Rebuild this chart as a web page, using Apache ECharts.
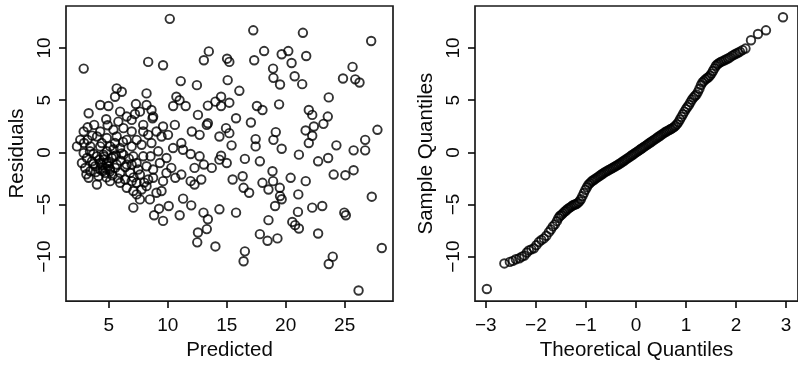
<!DOCTYPE html>
<html>
<head>
<meta charset="utf-8">
<script src="https://cdn.jsdelivr.net/npm/echarts@6/dist/echarts.min.js"></script>
<style>
html,body{margin:0;padding:0;background:#fff;}
#c{width:798px;height:366px;}
</style>
</head>
<body>
<div id="c"></div>
<script>
// Residuals vs predicted (left panel)
const predicted = [10.17,2.87,17.25,21.46,27.25,8.34,9.6,13.48,13.06,15.03,15.22,17.33,18.17,19.66,20.22,20.5,21.74,18.93,18.96,19.52,20.76,21.4,25.67,25.9,26.26,24.86,11.1,12.47,15.08,16.07,23.65,19.44,17.56,18.03,21.96,22.25,23.57,17.05,27.78,19.16,21.69,22.39,23.2,22.25,21.96,17.45,17.45,18.96,19.66,21.12,24.3,25.76,26.74,26.74,22.75,23.6,17.81,16.54,15.5,16.35,16.43,16.9,18.03,18.54,18.88,18.93,19.5,19.52,19.66,19.1,20.42,21.7,21.07,22.25,23.1,24.07,25.06,25.76,24.97,25.1,27.3,21.04,20.56,21.12,20.8,22.75,18.54,17.81,18.46,19.3,15.79,14.38,14.04,12.56,12.5,13.4,13.31,13.03,16.54,16.43,23.65,23.99,28.15,26.18,11.01,11.99,11.3,9.6,8.84,9.26,10.08,7.08,9.47,
10.73,11.0,11.52,10.46,13.4,14.04,14.52,14.52,15.22,12.56,13.31,13.4,15.79,12.04,12.7,14.94,15.22,14.38,15.41,11.15,11.29,10.45,11.94,12.7,14.52,15.0,13.06,13.73,12.27,11.15,12.84,12.27,11.94,10.64,10.3,14.38,9.6,10.02,10.6,9.47,9.89,9.33,8.54,8.71,8.62,8.2,8.2,7.3,7.22,8.76,
5.67,6.1,5.53,4.97,4.27,3.29,5.96,6.52,7.64,4.78,3.76,2.87,4.27,5.39,6.24,6.94,7.92,8.34,7.36,6.52,5.67,4.83,4.0,3.2,2.3,3.43,4.27,5.11,5.96,6.94,7.78,8.62,2.87,3.71,4.55,5.39,6.24,7.08,7.92,2.72,3.57,4.27,4.83,5.67,6.52,7.36,8.2,3.43,4.27,5.11,5.96,6.8,7.64,8.76,3.29,4.13,5.11,3.99,5.96,6.52,7.08,7.36,8.2,7.64,8.48,9.04,8.34,4.55,4.97,4.69,4.0,4.83,3.85,5.25,4.41,5.53,3.15,2.58,5.81,5.53,6.38,6.94,7.36,7.78,9.6,9.89,9.19,6.94,7.92,9.04,6.94,7.5,8.76,
4.7,4.4,5.0,4.6,3.9,5.3,6.0,6.7,3.4,3.0,3.6,4.9,6.2,7.1,8.0,5.8,3.2,2.9,
4.5,5.1,3.7,4.2,5.6,6.4,3.1,4.8,5.4,6.1];
const residuals = [12.8,8.03,11.7,11.46,10.67,8.67,8.35,9.68,8.83,8.98,8.67,8.83,9.71,9.4,9.71,8.57,9.24,8.03,7.14,6.5,7.3,6.54,8.19,7.0,6.7,7.08,6.83,6.44,6.92,5.9,5.27,4.6,4.44,4.06,4.06,3.59,3.43,2.86,2.16,1.94,2.1,2.48,2.73,1.59,0.89,1.27,0.57,1.2,0.35,-0.22,0.67,0.19,0.19,1.2,-0.86,-0.54,-0.86,-0.63,-2.6,-2.29,-3.4,-3.87,-2.92,-3.56,-1.81,-2.76,-3.4,-4.19,-4.5,-5.14,-2.44,-2.76,-4.03,-5.3,-5.14,-2.13,-2.19,-1.71,-5.78,-6.03,-4.25,-5.71,-6.67,-7.3,-6.98,-7.78,-6.5,-7.84,-8.48,-8.25,-5.78,-5.46,-9.02,-7.68,-8.63,-6.41,-7.36,-5.78,-9.49,-10.44,-10.7,-10.0,-9.17,-13.24,-6.03,-5.08,-4.44,-6.57,-6.03,-5.4,-5.14,-5.3,-3.71,
5.33,5.0,4.44,4.44,4.48,4.86,5.33,4.44,4.76,3.59,2.63,2.79,3.27,2.0,1.68,2.32,1.84,1.52,0.67,0.89,0.25,0.41,-0.16,-0.38,-0.32,-1.02,-1.17,-1.49,-1.49,-2.13,-2.6,-3.08,-2.76,-2.44,-1.49,-0.7,2.48,1.68,2.63,1.52,-0.54,-1.02,-0.38,3.27,4.06,4.54,5.65,4.63,3.68,3.43,
6.13,5.81,5.33,4.44,4.54,3.75,3.9,3.43,3.9,3.17,2.63,2.0,2.0,2.16,2.32,2.0,2.0,1.68,1.2,1.2,1.52,1.37,1.52,1.2,0.57,0.57,0.57,0.57,0.41,0.57,0.73,0.89,-0.06,-0.13,-0.22,-0.38,-0.22,-0.38,-0.38,-1.02,-0.86,-1.02,-1.02,-1.17,-1.17,-1.02,-1.33,-1.81,-1.65,-1.81,-1.97,-1.97,-2.13,-2.44,-2.44,-2.29,-2.76,-3.08,-2.92,-3.4,-3.71,-4.03,-3.24,-4.51,-4.51,-3.87,-2.6,-0.7,-1.33,-1.97,-0.38,0.1,-1.33,-0.54,0.89,0.89,-0.54,1.2,2.95,-1.49,-2.6,-2.76,-2.92,-3.56,-2.76,-1.97,0.1,3.11,2.63,2.0,-1.17,-1.65,-1.65,
-1.5,-1.2,-0.9,-0.4,-1.9,-2.2,-0.8,-0.6,0.1,-1.5,1.6,2.6,1.0,-2.4,-2.9,-2.5,2.4,0.9,
-1.8,-1.6,-1.1,-0.7,-0.3,-1.4,-2.1,-2.4,0.3,-0.1];

// Normal Q-Q plot (right panel)
const theoretical = [-2.98,-2.63,-2.52,-2.46,-2.40,-2.33,-2.28,-2.23,-2.18,-2.14,-2.09,-2.04,-1.99,-1.94,-1.89,-1.84,-1.79,-1.74,-1.70,-1.66,
-1.62,-1.58,-1.55,-1.52,-1.49,-1.46,-1.43,-1.40,-1.37,-1.34,-1.31,-1.28,-1.25,-1.22,-1.19,-1.16,-1.13,-1.10,-1.07,-1.04,-1.01,
-0.98,-0.95,-0.92,-0.89,-0.86,-0.83,-0.80,-0.77,-0.74,-0.71,-0.68,-0.65,-0.62,-0.59,-0.56,-0.53,-0.50,
-0.47,-0.44,-0.41,-0.38,-0.35,-0.32,-0.29,-0.26,-0.23,-0.20,-0.17,-0.14,-0.11,-0.08,-0.05,-0.02,0.01,0.04,0.07,0.10,0.13,0.16,0.19,0.22,0.25,0.28,0.31,0.34,0.37,0.40,0.43,0.46,0.49,
0.52,0.55,0.58,0.61,0.64,0.67,0.70,0.73,0.76,0.79,0.82,0.85,0.88,0.91,0.94,0.97,1.00,
1.03,1.06,1.09,1.12,1.15,1.18,1.21,1.24,1.27,1.30,1.33,1.36,1.39,1.42,1.45,1.48,1.51,1.54,1.57,1.60,
1.63,1.66,1.69,1.72,1.76,1.80,1.84,1.88,1.92,1.96,2.00,2.04,2.08,2.13,2.19,
2.30,2.44,2.60,2.94];
const sample = [-13.1,-10.65,-10.5,-10.4,-10.25,-10.15,-10.0,-9.9,-9.6,-9.4,-9.3,-9.2,-8.9,-8.6,-8.4,-8.25,-8.0,-7.65,-7.4,-7.1,
-6.9,-6.6,-6.3,-6.1,-6.0,-5.85,-5.7,-5.6,-5.45,-5.35,-5.25,-5.15,-5.05,-5.0,-4.95,-4.85,-4.7,-4.5,-4.2,-3.9,-3.6,
-3.35,-3.1,-2.95,-2.8,-2.7,-2.6,-2.5,-2.4,-2.3,-2.2,-2.1,-2.0,-1.9,-1.82,-1.74,-1.66,-1.58,
-1.5,-1.42,-1.33,-1.25,-1.16,-1.07,-0.98,-0.88,-0.78,-0.68,-0.58,-0.48,-0.38,-0.28,-0.18,-0.08,0.02,0.12,0.22,0.32,0.42,0.52,0.62,0.72,0.82,0.92,1.02,1.12,1.22,1.32,1.42,1.52,1.62,
1.72,1.82,1.92,2.0,2.08,2.16,2.24,2.32,2.42,2.55,2.7,2.9,3.15,3.4,3.65,3.9,4.15,
4.35,4.55,4.8,5.05,5.25,5.4,5.55,5.8,6.1,6.45,6.7,6.85,7.0,7.1,7.2,7.35,7.55,7.8,8.05,8.3,
8.45,8.55,8.65,8.72,8.8,8.9,9.0,9.1,9.25,9.35,9.45,9.55,9.65,9.8,9.95,
10.75,11.35,11.7,12.95];

// Tick labels
const xTicksLeft = [5, 10, 15, 20, 25];
const yTicks = [-10, -5, 0, 5, 10];
const xTicksRight = [-3, -2, -1, 0, 1, 2, 3];

const FONT = "'Liberation Sans', Arial, Helvetica, sans-serif";
const INK = '#0a0a0a';
const fmt = v => String(v).replace('-', '\u2212');

function xAxisCfg(gridIndex, min, max, ticks, name) {
  return {
    type: 'value', gridIndex, min, max, position: 'bottom',
    name, nameLocation: 'middle', nameGap: 35,
    nameTextStyle: { fontFamily: FONT, fontSize: 20.5, color: INK },
    axisLine: { show: false, onZero: false },
    axisTick: { show: true, length: 7, lineStyle: { color: INK, width: 1.6 }, customValues: ticks },
    axisLabel: { show: true, margin: 15, fontFamily: FONT, fontSize: 19, color: INK, customValues: ticks, formatter: fmt },
    splitLine: { show: false }
  };
}
function yAxisCfg(gridIndex, ticks, name) {
  return {
    type: 'value', gridIndex, min: -14.26, max: 14.03, position: 'left',
    name, nameLocation: 'middle', nameGap: 38, nameRotate: 90,
    nameTextStyle: { fontFamily: FONT, fontSize: 20.5, color: INK },
    axisLine: { show: false, onZero: false },
    axisTick: { show: true, length: 7, lineStyle: { color: INK, width: 1.6 }, customValues: ticks },
    axisLabel: { show: true, margin: 12, rotate: 90, fontFamily: FONT, fontSize: 19, color: INK, customValues: ticks, formatter: fmt },
    splitLine: { show: false }
  };
}

const markerStyle = { color: 'rgba(0,0,0,0)', borderColor: '#000', borderWidth: 1.9 };

const chart = echarts.init(document.getElementById('c'), null, { renderer: 'canvas' });
chart.setOption({
  backgroundColor: '#ffffff',
  animation: false,
  grid: [
    { left: 66, top: 6, width: 327, height: 297, show: true, borderColor: '#1a1a1a', borderWidth: 1.7, backgroundColor: 'transparent' },
    { left: 475, top: 6, width: 328, height: 297, show: true, borderColor: '#1a1a1a', borderWidth: 1.7, backgroundColor: 'transparent' }
  ],
  xAxis: [
    xAxisCfg(0, 1.37, 29.1, xTicksLeft, 'Predicted'),
    xAxisCfg(1, -3.217, 3.24, xTicksRight, 'Theoretical Quantiles')
  ],
  yAxis: [
    yAxisCfg(0, yTicks, 'Residuals'),
    yAxisCfg(1, yTicks, 'Sample Quantiles')
  ],
  series: [
    {
      type: 'scatter', xAxisIndex: 0, yAxisIndex: 0, symbol: 'circle', symbolSize: 8.5,
      itemStyle: markerStyle, silent: true,
      data: predicted.map((p, i) => [p, residuals[i]])
    },
    {
      type: 'scatter', xAxisIndex: 1, yAxisIndex: 1, symbol: 'circle', symbolSize: 8.5,
      itemStyle: markerStyle, silent: true,
      data: theoretical.map((t, i) => [t, sample[i]])
    }
  ]
});
</script>
</body>
</html>
